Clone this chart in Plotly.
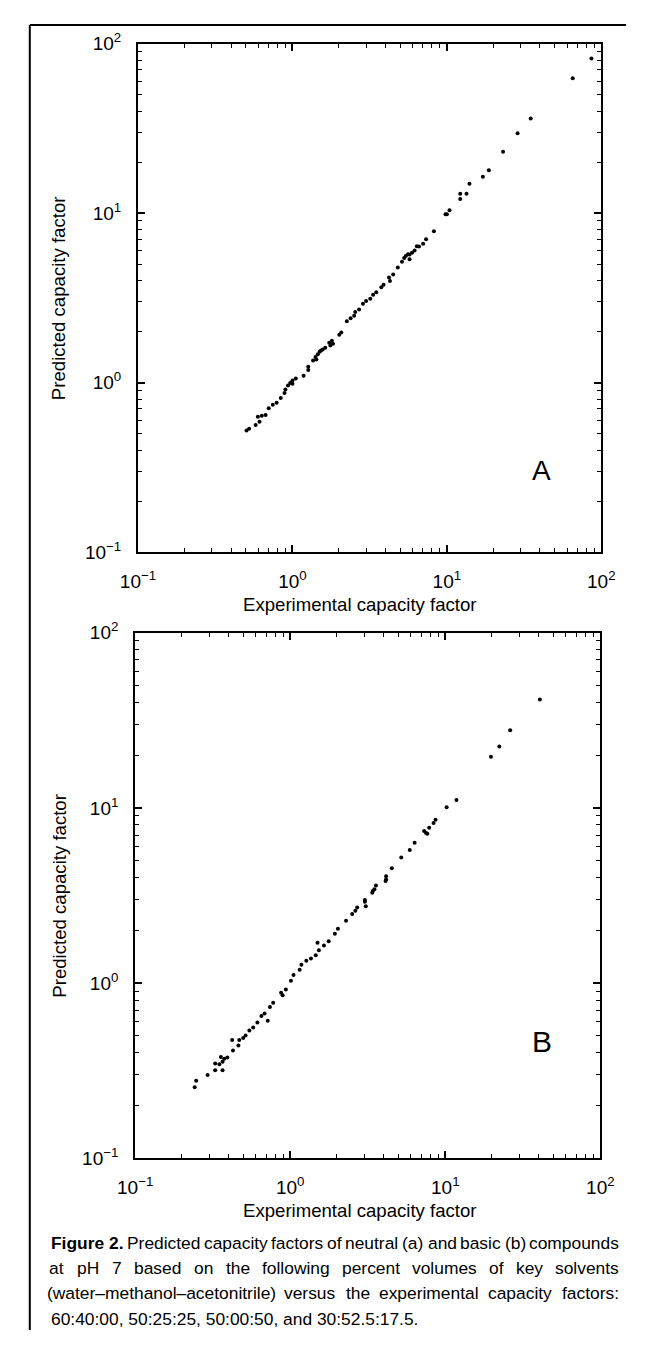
import plotly.graph_objects as go

# Page is 648x1349 with the default 8px body margin, so the figure is 16px smaller
OFF = 8
FW, FH = 648 - 2 * OFF, 1349 - 2 * OFF
FONT = "Liberation Sans, Arial, sans-serif"

# Panel A: neutral compounds (experimental vs predicted capacity factor)
a_exp = [86.3, 65.3, 34.9, 28.7, 23.1, 18.7, 17.1, 14.0, 13.4, 12.2, 12.2, 10.4, 10.0, 9.8,
         8.24, 7.33, 7.02, 6.39, 6.18, 5.95, 5.73, 5.42, 5.73, 5.29, 5.12, 4.81, 4.49, 4.22,
         4.28, 3.89, 3.76, 3.49, 3.33, 3.19, 3.00, 2.86, 2.70, 2.55, 2.51, 2.38, 2.25, 2.07,
         2.01, 1.80, 1.73, 1.83, 1.76, 1.63, 1.57, 1.50, 1.46, 1.41, 1.43, 1.36, 1.265, 1.265,
         1.18, 1.05, 1.00, 0.967, 0.936, 0.901, 0.888, 0.840, 0.790, 0.746, 0.702, 0.670, 0.633,
         0.597, 0.612, 0.578, 0.524, 0.504, 1.00, 1.53, 6.60, 5.60]
a_pred = [81.8, 62.4, 36.1, 29.6, 23.0, 17.9, 16.4, 14.9, 13.0, 13.0, 12.1, 10.4, 9.85, 9.85,
          7.83, 7.01, 6.61, 6.38, 6.02, 5.84, 5.71, 5.58, 5.34, 5.44, 5.16, 4.78, 4.35, 4.18,
          3.98, 3.78, 3.66, 3.41, 3.30, 3.13, 3.03, 2.92, 2.70, 2.61, 2.48, 2.40, 2.30, 1.98,
          1.92, 1.77, 1.72, 1.70, 1.66, 1.61, 1.57, 1.52, 1.47, 1.42, 1.37, 1.35, 1.24, 1.19,
          1.10, 1.06, 1.03, 0.995, 0.962, 0.912, 0.871, 0.812, 0.762, 0.742, 0.707, 0.644, 0.638,
          0.630, 0.589, 0.564, 0.535, 0.522, 0.985, 1.55, 6.35, 5.72]

# Panel B: basic compounds
b_exp = [40.7, 26.2, 22.3, 19.7, 11.8, 10.2, 8.65, 8.40, 7.87, 7.51, 7.30, 7.66, 6.34, 5.90,
         5.20, 4.52, 4.15, 4.12, 3.57, 3.41, 3.03, 3.07, 2.70, 2.51,
         4.15, 3.49, 3.38, 3.03, 2.63, 2.29, 2.03, 1.94, 1.77, 1.65, 1.50, 1.53, 1.46, 1.36,
         1.27, 1.18, 1.15, 1.05, 1.01, 0.937, 0.873, 0.893, 0.776, 0.740, 0.683, 0.652, 0.716,
         0.614, 0.577, 0.545, 0.515, 0.497, 0.469, 0.422, 0.463, 0.427, 0.393, 0.375, 0.357,
         0.366, 0.349, 0.328, 0.366, 0.328, 0.293, 0.2474, 0.242]
b_pred = [41.6, 27.8, 22.4, 19.6, 11.1, 10.1, 8.55, 8.20, 7.71, 7.19, 7.39, 7.13, 6.32, 5.75,
          5.21, 4.53, 4.07, 3.82, 3.61, 3.35, 2.98, 2.74, 2.70, 2.48,
          3.90, 3.43, 3.28, 2.91, 2.59, 2.27, 2.04, 1.91, 1.73, 1.64, 1.70, 1.54, 1.44, 1.38,
          1.34, 1.27, 1.19, 1.11, 1.03, 0.917, 0.879, 0.852, 0.772, 0.729, 0.670, 0.649, 0.608,
          0.596, 0.558, 0.535, 0.501, 0.486, 0.473, 0.473, 0.440, 0.412, 0.375, 0.370, 0.378,
          0.355, 0.344, 0.347, 0.318, 0.318, 0.298, 0.277, 0.254]

tick_vals = [0.1, 1, 10, 100]
tick_text = ["10<sup>−1</sup>", "10<sup>0</sup>", "10<sup>1</sup>", "10<sup>2</sup>"]
minor_vals = [k * 10.0 ** e for e in (-1, 0, 1) for k in range(2, 10)]

x_title = "Experimental capacity factor"
y_title = "Predicted capacity factor"
caption_bold = "Figure 2."
caption_lines = [
    "Predicted capacity factors of neutral (a) and basic (b) compounds",
    "at pH 7 based on the following percent volumes of key solvents",
    "(water–methanol–acetonitrile) versus the experimental capacity factors:",
    "60:40:00, 50:25:25, 50:00:50, and 30:52.5:17.5.",
]

# reference-page pixel boxes (left, top, right, bottom)
boxA = (126, 31, 614, 549)
boxB = (123, 631, 613, 1166)


def px(x):
    return (x - OFF) / FW


def py(y):
    return 1 - (y - OFF) / FH


# Arial / Liberation Sans advance widths (per 1000 em) for justified caption layout
W_REG = dict(zip("abcdefghijklmnopqrstuvwxyz",
                 [556, 556, 500, 556, 556, 278, 556, 556, 222, 222, 500, 222, 833, 556, 556,
                  556, 556, 333, 500, 278, 556, 500, 722, 500, 500, 500]))
W_REG.update({"P": 667, "H": 722, "F": 611, " ": 278, ".": 278, ",": 278, ":": 278,
              "(": 333, ")": 333, "–": 556})
W_REG.update({d: 556 for d in "0123456789"})
W_BOLD = {"F": 611, "i": 278, "g": 611, "u": 611, "r": 389, "e": 556, " ": 278, "2": 556,
          ".": 278}


def text_w(s, size, table, factor):
    return sum(table.get(ch, 556) for ch in s) * size / 1000.0 * factor


def axis(domain, anchor):
    return dict(
        type="log", range=[-1, 2], domain=domain, anchor=anchor,
        showline=True, linecolor="black", linewidth=2, mirror="ticks",
        ticks="inside", ticklen=7, tickwidth=1.5, tickcolor="black",
        tickvals=tick_vals, ticktext=tick_text,
        showgrid=False, zeroline=False,
        tickfont=dict(size=19, family=FONT, color="black"),
        ticklabelstandoff=11,
        minor=dict(ticks="inside", ticklen=4, tickwidth=1.2, tickcolor="black",
                   tickvals=minor_vals, showgrid=False),
    )


fig = go.Figure()
fig.add_trace(go.Scatter(x=a_exp, y=a_pred, mode="markers", xaxis="x", yaxis="y",
                         marker=dict(size=4, color="black"), showlegend=False))
fig.add_trace(go.Scatter(x=b_exp, y=b_pred, mode="markers", xaxis="x2", yaxis="y2",
                         marker=dict(size=4, color="black"), showlegend=False))

fig.update_layout(
    width=FW, height=FH, margin=dict(l=0, r=0, t=0, b=0),
    paper_bgcolor="white", plot_bgcolor="white",
    font=dict(family=FONT, color="black"),
    xaxis=axis([px(boxA[0]), px(boxA[2])], "y"),
    yaxis=axis([py(boxA[3]), py(boxA[1])], "x"),
    xaxis2=axis([px(boxB[0]), px(boxB[2])], "y2"),
    yaxis2=axis([py(boxB[3]), py(boxB[1])], "x2"),
)

TS = 18.6
ann = []
for box, letter, lsize, ly in ((boxA, "A", 28, 466), (boxB, "B", 30, 1047)):
    cy = (box[1] + box[3]) / 2
    ann.append(dict(x=px(360), y=py(box[3] + 53), xref="paper", yref="paper",
                    text=x_title, showarrow=False, font=dict(size=TS, family=FONT),
                    xanchor="center", yanchor="middle"))
    ann.append(dict(x=px(43), y=py(cy), xref="paper", yref="paper", textangle=-90,
                    text=y_title, showarrow=False, font=dict(size=TS, family=FONT),
                    xanchor="center", yanchor="middle"))
    ann.append(dict(x=px(551), y=py(ly), xref="paper", yref="paper", text=letter,
                    showarrow=False, font=dict(size=lsize, family=FONT),
                    xanchor="center", yanchor="middle"))

# caption: first three lines justified between X0 and X1, last line left-aligned
CS = 17.4
X0, X1 = 33, 632
line_y = [1252, 1278, 1303, 1330]
for i, line in enumerate(caption_lines):
    y = py(line_y[i])
    words = line.split(" ")
    tokens = [(w, W_REG, w, 1.03) for w in words]
    if i == 0:
        tokens = [("<b>" + caption_bold + "</b>", W_BOLD, caption_bold, 1.07)] + tokens
    if i < 3:
        widths = [text_w(raw, CS, tab, f) for _, tab, raw, f in tokens]
        gap = (X1 - X0 - sum(widths)) / (len(tokens) - 1)
        x = X0
        for (txt, _, _, _), w in zip(tokens, widths):
            ann.append(dict(x=px(x + w / 2), y=y, xref="paper", yref="paper", text=txt,
                            showarrow=False, font=dict(size=CS, family=FONT),
                            xanchor="center", yanchor="middle", borderpad=0))
            x += w + gap
    else:
        ann.append(dict(x=px(X0), y=y, xref="paper", yref="paper", text=line,
                        showarrow=False, font=dict(size=CS, family=FONT),
                        xanchor="left", yanchor="middle", borderpad=0))
fig.update_layout(annotations=ann)

fig.update_layout(shapes=[
    dict(type="line", xref="paper", yref="paper", x0=px(12), x1=1, y0=py(12), y1=py(12),
         line=dict(color="black", width=2)),
    dict(type="line", xref="paper", yref="paper", x0=px(12), x1=px(12), y0=py(12), y1=0,
         line=dict(color="black", width=2)),
])

fig.write_html("out.html", config={"displayModeBar": False})
